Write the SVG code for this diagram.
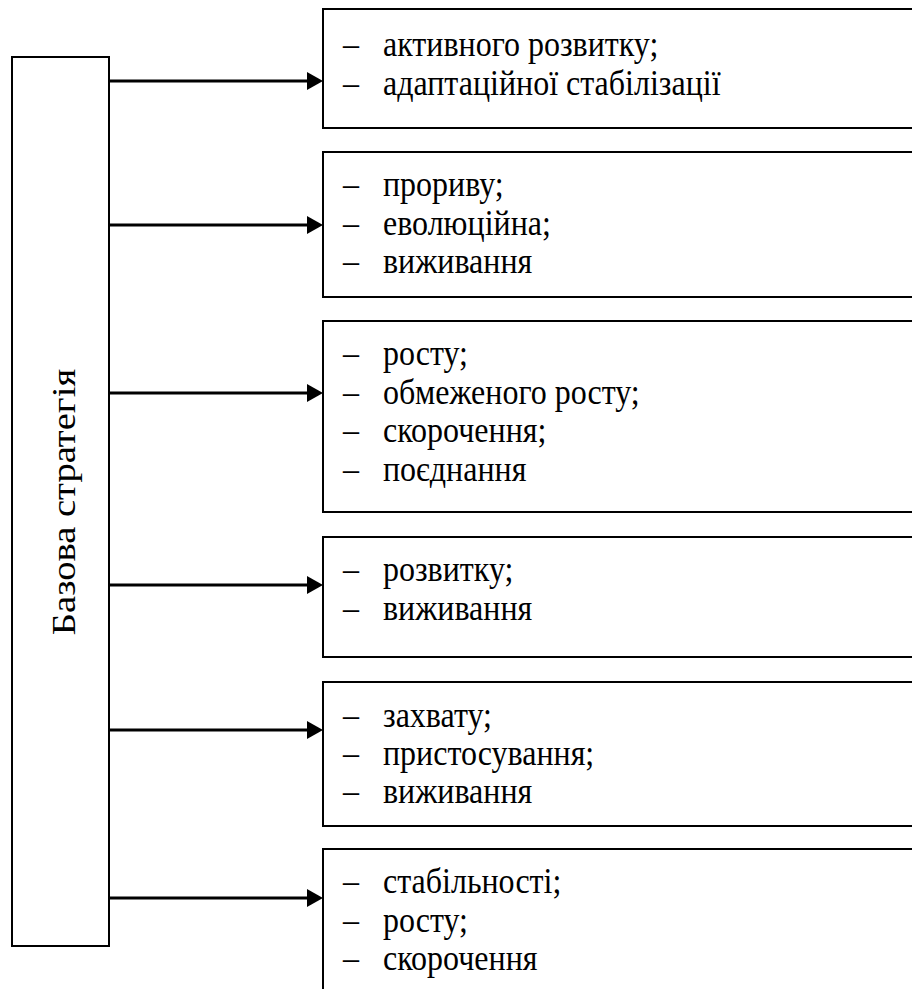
<svg xmlns="http://www.w3.org/2000/svg" width="912" height="989" viewBox="0 0 912 989">
<style>
.box{fill:#fff;stroke:#000;stroke-width:2}
.t{font-family:"Liberation Serif","Times New Roman",serif;font-size:32px;fill:#000}
.v{font-family:"Liberation Serif","Times New Roman",serif;font-size:33px;fill:#000}
.c{stroke:#000;stroke-width:3;fill:none}
</style>
<defs>
<marker id="ah" markerUnits="userSpaceOnUse" markerWidth="16" markerHeight="18" refX="4" refY="9" orient="auto" viewBox="0 0 16 18">
<path d="M0,0 L16,9 L0,18 Z" fill="#000"/>
</marker>
</defs>
<rect width="912" height="989" fill="#fff"/>
<g id="base">
<rect class="box" x="12" y="57" width="97" height="889"/>
<text class="v" text-anchor="middle" transform="translate(75,502) rotate(-90) scale(1.17,1)">Базова стратегія</text>
</g>
<g id="connectors">
<line class="c" x1="109" y1="81" x2="311" y2="81" marker-end="url(#ah)"/>
<line class="c" x1="109" y1="225" x2="311" y2="225" marker-end="url(#ah)"/>
<line class="c" x1="109" y1="393" x2="311" y2="393" marker-end="url(#ah)"/>
<line class="c" x1="109" y1="585" x2="311" y2="585" marker-end="url(#ah)"/>
<line class="c" x1="109" y1="730" x2="311" y2="730" marker-end="url(#ah)"/>
<line class="c" x1="109" y1="898" x2="311" y2="898" marker-end="url(#ah)"/>
</g>
<g id="box1">
<rect class="box" x="323" y="9" width="600" height="119"/>
<text class="t" transform="translate(343,56) scale(1,1.1)">–</text><text class="t" transform="translate(383,56) scale(1,1.1)">активного розвитку;</text>
<text class="t" transform="translate(343,94.5) scale(1,1.1)">–</text><text class="t" transform="translate(383,94.5) scale(1,1.1)">адаптаційної стабілізації</text>
</g>
<g id="box2">
<rect class="box" x="323" y="152" width="600" height="145"/>
<text class="t" transform="translate(343,196) scale(1,1.1)">–</text><text class="t" transform="translate(383,196) scale(1,1.1)">прориву;</text>
<text class="t" transform="translate(343,234.5) scale(1,1.1)">–</text><text class="t" transform="translate(383,234.5) scale(1,1.1)">еволюційна;</text>
<text class="t" transform="translate(343,273) scale(1,1.1)">–</text><text class="t" transform="translate(383,273) scale(1,1.1)">виживання</text>
</g>
<g id="box3">
<rect class="box" x="323" y="321" width="600" height="191"/>
<text class="t" transform="translate(343,365) scale(1,1.1)">–</text><text class="t" transform="translate(383,365) scale(1,1.1)">росту;</text>
<text class="t" transform="translate(343,403.5) scale(1,1.1)">–</text><text class="t" transform="translate(383,403.5) scale(1,1.1)">обмеженого росту;</text>
<text class="t" transform="translate(343,442) scale(1,1.1)">–</text><text class="t" transform="translate(383,442) scale(1,1.1)">скорочення;</text>
<text class="t" transform="translate(343,480.5) scale(1,1.1)">–</text><text class="t" transform="translate(383,480.5) scale(1,1.1)">поєднання</text>
</g>
<g id="box4">
<rect class="box" x="323" y="537" width="600" height="120"/>
<text class="t" transform="translate(343,581) scale(1,1.1)">–</text><text class="t" transform="translate(383,581) scale(1,1.1)">розвитку;</text>
<text class="t" transform="translate(343,619.5) scale(1,1.1)">–</text><text class="t" transform="translate(383,619.5) scale(1,1.1)">виживання</text>
</g>
<g id="box5">
<rect class="box" x="323" y="682" width="600" height="144"/>
<text class="t" transform="translate(343,727) scale(1,1.1)">–</text><text class="t" transform="translate(383,727) scale(1,1.1)">захвату;</text>
<text class="t" transform="translate(343,765) scale(1,1.1)">–</text><text class="t" transform="translate(383,765) scale(1,1.1)">пристосування;</text>
<text class="t" transform="translate(343,803) scale(1,1.1)">–</text><text class="t" transform="translate(383,803) scale(1,1.1)">виживання</text>
</g>
<g id="box6">
<rect class="box" x="323" y="849" width="600" height="160"/>
<text class="t" transform="translate(343,893) scale(1,1.1)">–</text><text class="t" transform="translate(383,893) scale(1,1.1)">стабільності;</text>
<text class="t" transform="translate(343,931.5) scale(1,1.1)">–</text><text class="t" transform="translate(383,931.5) scale(1,1.1)">росту;</text>
<text class="t" transform="translate(343,970) scale(1,1.1)">–</text><text class="t" transform="translate(383,970) scale(1,1.1)">скорочення</text>
</g>
</svg>
